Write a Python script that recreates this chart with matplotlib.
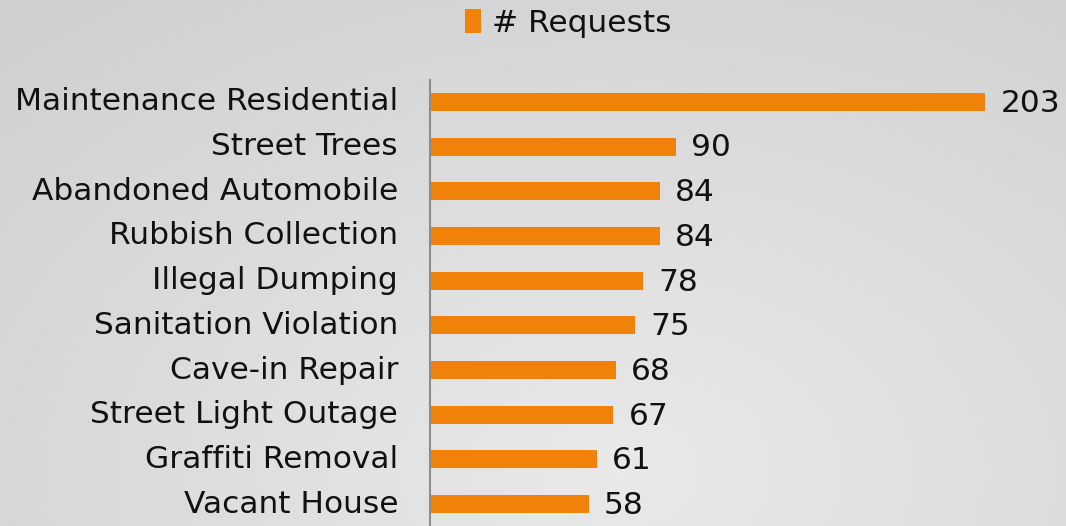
import numpy as np
import matplotlib
matplotlib.use("Agg")
import matplotlib.pyplot as plt

categories = ["Maintenance Residential", "Street Trees", "Abandoned Automobile",
              "Rubbish Collection", "Illegal Dumping", "Sanitation Violation",
              "Cave-in Repair", "Street Light Outage", "Graffiti Removal", "Vacant House"]
requests = [203, 90, 84, 84, 78, 75, 68, 67, 61, 58]
series_name = "# Requests"

W, H = 1066, 526
fig = plt.figure(figsize=(W / 100, H / 100), dpi=100)

# radial gradient background
bg = fig.add_axes([0, 0, 1, 1], zorder=-10)
yy, xx = np.mgrid[0:H, 0:W]
r = np.sqrt(((xx - 620) / 900.0) ** 2 + ((yy - 470) / 600.0) ** 2)
val = 0.915 - 0.10 * np.clip(r, 0, 1)
bg.imshow(np.dstack([val, val, val]), aspect="auto", extent=[0, 1, 0, 1])
bg.set_axis_off()

FS = 22.5
left = 430 / W
ax = fig.add_axes([left, 0, 1 - left, (H - 80) / H])
ax.patch.set_alpha(0)
y = np.arange(len(categories))
bar_color = "#F0820A"
bars = ax.barh(y, requests, height=0.40, color=bar_color, label=series_name)
ax.set_xlim(0, 636 / 2.734)
ax.set_ylim(9.49, -0.49)
for yi, v in zip(y, requests):
    ax.annotate(str(v), (v, yi), xytext=(11, -1), textcoords="offset points",
                ha="left", va="center", fontsize=FS, color="#111111")
ax.set_yticks(y)
ax.set_yticklabels(categories, fontsize=FS, color="#111111")
ax.tick_params(axis="y", length=0, pad=23)
for lbl in ax.get_yticklabels():
    lbl.set_va("center")
ax.set_xticks([])
for s in ["top", "right", "bottom"]:
    ax.spines[s].set_visible(False)
ax.spines["left"].set_color("#8c8c8c")
ax.spines["left"].set_linewidth(1.5)

leg = fig.legend(handles=[bars], labels=[series_name], loc="center",
                 bbox_to_anchor=(568 / W, 1 - 23 / H), frameon=False,
                 fontsize=FS, handlelength=0.5, handleheight=0.8,
                 handletextpad=0.35, labelcolor="#111111")

fig.savefig("out.png", dpi=100)
